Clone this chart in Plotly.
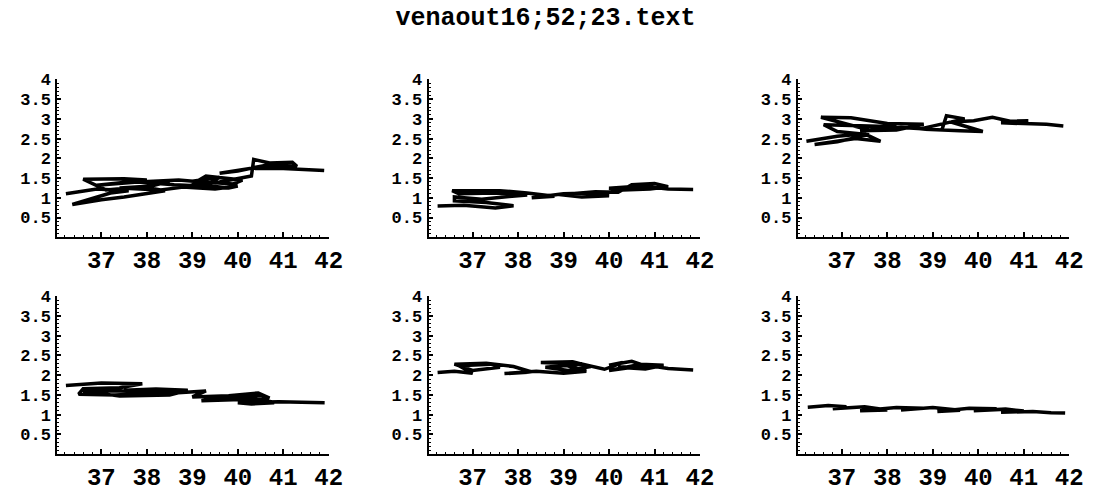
import plotly.graph_objects as go

TITLE = "venaout16;52;23.text"

X_TICKS = [37, 38, 39, 40, 41, 42]
X_LABELS = ["37", "38", "39", "40", "41", "42"]
Y_TICKS = [0.5, 1, 1.5, 2, 2.5, 3, 3.5, 4]
Y_LABELS = ["0.5", "1", "1.5", "2", "2.5", "3", "3.5", "4"]

p1_x = [36.22, 36.9, 37.6, 37.2, 36.36, 37.0, 37.5, 38.4, 37.9, 37.1, 36.6, 37.5, 38.0, 37.2,
        36.9, 37.8, 38.5, 38.1, 37.4, 38.3, 38.8, 39.2, 38.6, 37.8, 38.7, 39.4, 39.6, 39.0,
        39.9, 40.1, 39.3, 39.0, 39.8, 40.0, 39.5, 38.7, 39.6, 40.3, 40.35, 40.7, 41.2, 41.3,
        40.6, 40.0, 39.6, 40.3, 41.0, 41.9]
p1_y = [1.10, 1.22, 1.18, 1.12, 0.83, 0.95, 1.02, 1.18, 1.28, 1.20, 1.47, 1.48, 1.45, 1.35,
        1.32, 1.40, 1.42, 1.30, 1.25, 1.20, 1.27, 1.30, 1.33, 1.40, 1.45, 1.38, 1.52, 1.42,
        1.35, 1.45, 1.55, 1.35, 1.25, 1.30, 1.22, 1.28, 1.40, 1.55, 1.97, 1.88, 1.90, 1.80,
        1.82, 1.68, 1.62, 1.75, 1.74, 1.69]

p2_x = [36.23, 36.8, 37.5, 37.9, 37.3, 36.6, 36.6, 37.2, 37.8, 38.2, 37.5, 36.7, 36.55, 37.6,
        38.2, 38.8, 38.3, 39.0, 39.6, 40.0, 39.4, 38.9, 39.7, 40.2, 40.5, 41.0, 41.3, 40.9,
        40.3, 40.0, 40.7, 41.3, 41.85]
p2_y = [0.79, 0.81, 0.74, 0.80, 0.88, 0.92, 1.02, 0.96, 1.03, 1.07, 1.12, 1.10, 1.18, 1.18,
        1.12, 1.04, 1.00, 1.10, 1.12, 1.05, 1.02, 1.08, 1.15, 1.14, 1.33, 1.36, 1.28, 1.22,
        1.20, 1.24, 1.30, 1.22, 1.21]

p3_x = [36.22, 36.9, 37.5, 37.85, 37.3, 36.4, 36.9, 37.6, 36.9, 36.6, 37.3, 38.2, 37.6, 36.9,
        36.54, 37.2, 38.0, 38.8, 38.2, 37.4, 38.3, 39.2, 39.3, 39.7, 39.1, 38.7, 39.6, 40.1,
        39.4, 39.9, 40.31, 40.7, 41.1, 40.5, 41.5, 41.87]
p3_y = [2.43, 2.56, 2.62, 2.43, 2.50, 2.35, 2.42, 2.60, 2.68, 2.85, 2.82, 2.80, 2.72, 2.92,
        3.04, 3.03, 2.88, 2.86, 2.72, 2.70, 2.78, 2.72, 3.08, 3.00, 2.85, 2.74, 2.70, 2.68,
        2.92, 2.95, 3.04, 2.94, 2.95, 2.90, 2.86, 2.82]

p4_x = [36.22, 37.0, 37.9, 37.4, 36.6, 36.5, 37.3, 38.3, 37.6, 36.6, 37.4, 38.5, 38.9, 38.2,
        37.5, 38.6, 39.3, 39.0, 39.8, 40.45, 40.7, 40.5, 40.0, 39.5, 39.2, 39.9, 40.6, 40.8,
        40.3, 40.0, 40.9, 41.4, 41.91]
p4_y = [1.74, 1.80, 1.78, 1.68, 1.66, 1.52, 1.50, 1.55, 1.60, 1.60, 1.47, 1.50, 1.62, 1.65,
        1.62, 1.55, 1.60, 1.45, 1.48, 1.55, 1.42, 1.48, 1.42, 1.40, 1.35, 1.38, 1.38, 1.30,
        1.27, 1.30, 1.33, 1.31, 1.30]

p5_x = [36.23, 36.6, 37.0, 36.7, 37.4, 37.6, 37.0, 36.6, 37.3, 37.9, 38.3, 37.7, 38.4, 39.0,
        39.5, 38.9, 38.5, 39.2, 39.6, 39.1, 38.6, 39.4, 39.9, 40.3, 40.0, 40.5, 40.9, 40.4,
        40.0, 40.7, 41.2, 40.8, 40.2, 40.9, 41.3, 41.85]
p5_y = [2.07, 2.10, 2.05, 2.24, 2.28, 2.20, 2.12, 2.28, 2.30, 2.22, 2.08, 2.04, 2.10, 2.05,
        2.10, 2.30, 2.32, 2.34, 2.22, 2.12, 2.20, 2.28, 2.15, 2.32, 2.25, 2.35, 2.20, 2.18,
        2.12, 2.28, 2.25, 2.16, 2.20, 2.24, 2.17, 2.13]

p6_x = [36.25, 36.7, 37.1, 36.8, 37.5, 38.0, 37.4, 38.2, 38.8, 38.3, 39.0, 39.6, 39.1, 39.8,
        40.4, 39.9, 40.6, 41.0, 40.5, 41.2, 41.6, 41.91]
p6_y = [1.19, 1.23, 1.20, 1.15, 1.20, 1.12, 1.10, 1.18, 1.16, 1.12, 1.18, 1.11, 1.08, 1.16,
        1.15, 1.10, 1.14, 1.09, 1.06, 1.08, 1.05, 1.04]

panels = [(p1_x, p1_y), (p2_x, p2_y), (p3_x, p3_y),
          (p4_x, p4_y), (p5_x, p5_y), (p6_x, p6_y)]

W, H = 1105, 492
col_left = [58, 434, 808]
col_w = 275
row_bottom = [241, 469]
row_h = 166

FAMILY = "Liberation Mono, Courier New, monospace"
XFONT = dict(family=FAMILY, size=24, color="black", weight="bold")
YFONT = dict(family=FAMILY, size=17, color="black", weight="bold")

fig = go.Figure()
layout = dict(
    width=W, height=H,
    margin=dict(l=0, r=0, t=0, b=0),
    paper_bgcolor="white", plot_bgcolor="white",
    showlegend=False,
    font=XFONT,
)

for i, (px, py) in enumerate(panels):
    r, c = divmod(i, 3)
    n = "" if i == 0 else str(i + 1)
    fig.add_trace(go.Scatter(x=px, y=py, mode="lines",
                             line=dict(color="black", width=3.5),
                             xaxis="x" + n, yaxis="y" + n, hoverinfo="skip"))
    x0 = col_left[c] / W
    x1 = (col_left[c] + col_w) / W
    y0 = 1 - row_bottom[r] / H
    y1 = 1 - (row_bottom[r] - row_h) / H
    layout["xaxis" + n] = dict(
        domain=[x0, x1], range=[36.03, 42.001], anchor="y" + n,
        showline=True, linecolor="black", linewidth=2,
        showgrid=False, zeroline=False,
        tickvals=X_TICKS, ticktext=X_LABELS,
        ticks="inside", ticklen=5, tickwidth=1.5, tickcolor="black",
        minor=dict(ticks="inside", ticklen=2, dtick=0.2, tickcolor="black", tickwidth=1),
        tickfont=XFONT, ticklabelstandoff=0,
    )
    layout["yaxis" + n] = dict(
        domain=[y0, y1], range=[0, 4.001], anchor="x" + n,
        showline=True, linecolor="black", linewidth=2,
        showgrid=False, zeroline=False,
        tickvals=Y_TICKS, ticktext=Y_LABELS,
        ticks="inside", ticklen=4, tickwidth=1.5, tickcolor="black",
        minor=dict(ticks="inside", ticklen=2, dtick=0.1, tickcolor="black", tickwidth=1),
        tickfont=YFONT, ticklabelstandoff=1,
    )

layout["title"] = dict(text=TITLE, x=0.5, xanchor="center", xref="paper",
                       y=1 - 9 / H, yanchor="middle", yref="paper",
                       font=dict(family=FAMILY, size=25, color="black", weight="bold"))
fig.update_layout(**layout)
fig.write_html("out.html")
